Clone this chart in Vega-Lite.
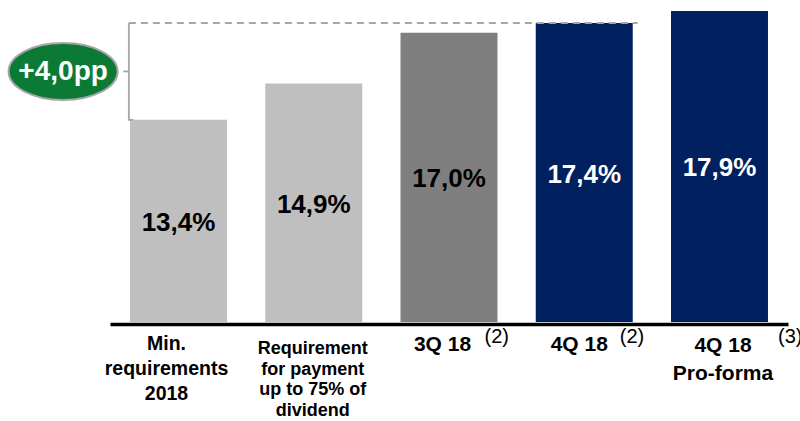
{
  "$schema": "https://vega.github.io/schema/vega-lite/v6.json",
  "width": 678,
  "height": 322,
  "autosize": {"type": "none"},
  "padding": {"left": 110, "top": 0, "right": 12, "bottom": 99},
  "background": "white",
  "config": {"view": {"stroke": null}, "font": "Liberation Sans"},
  "datasets": {
    "bars": [
      {"cat": "min", "lines": ["Min.", "requirements", "2018"], "value": 13.4, "label": "13,4%", "kind": "light", "note": ""},
      {"cat": "req", "lines": ["Requirement", "for payment", "up to 75% of", "dividend"], "value": 14.9, "label": "14,9%", "kind": "light", "note": ""},
      {"cat": "3q", "lines": ["3Q 18"], "value": 17.0, "label": "17,0%", "kind": "dark", "note": "(2)"},
      {"cat": "4q", "lines": ["4Q 18"], "value": 17.4, "label": "17,4%", "kind": "navy", "note": "(2)"},
      {"cat": "pf", "lines": ["4Q 18", "Pro-forma"], "value": 17.9, "label": "17,9%", "kind": "navy", "note": "(3)"}
    ],
    "gap": [
      {"from": "min", "to": "4q", "low": 13.4, "high": 17.4, "mid": 15.4, "text": "+4,0pp"}
    ]
  },
  "resolve": {"scale": {"y": "independent"}},
  "layer": [
    {
      "layer": [
        {
          "data": {"name": "bars"},
          "mark": {"type": "bar"},
          "encoding": {
            "x": {
              "field": "cat",
              "type": "nominal",
              "sort": null,
              "scale": {
                "domain": ["min", "req", "3q", "4q", "pf"],
                "paddingInner": 0.283,
                "paddingOuter": 0.148
              },
              "axis": {
                "title": null,
                "ticks": false,
                "labels": false,
                "domainColor": "black",
                "domainWidth": 3.5,
                "offset": 2
              }
            },
            "y": {
              "field": "value",
              "type": "quantitative",
              "scale": {"domain": [5.05, 18.35], "zero": false, "nice": false},
              "axis": null
            },
            "y2": {"datum": 5.05},
            "color": {
              "field": "kind",
              "type": "nominal",
              "scale": {"domain": ["light", "dark", "navy"], "range": ["#BFBFBF", "#7F7F7F", "#00205F"]},
              "legend": null
            }
          }
        },
        {
          "data": {"name": "gap"},
          "mark": {"type": "rule", "stroke": "#A6A6A6", "strokeWidth": 2, "strokeDash": [7, 5]},
          "encoding": {
            "x": {"field": "from", "type": "nominal", "bandPosition": -0.012},
            "x2": {"field": "to", "bandPosition": 1.05},
            "y": {"field": "high", "type": "quantitative"}
          }
        },
        {
          "data": {"name": "gap"},
          "mark": {"type": "rule", "stroke": "#A6A6A6", "strokeWidth": 1.8},
          "encoding": {
            "x": {"field": "from", "type": "nominal", "bandPosition": -0.012},
            "y": {"field": "low", "type": "quantitative"},
            "y2": {"field": "high"}
          }
        },
        {
          "data": {"name": "gap"},
          "mark": {"type": "rule", "stroke": "#A6A6A6", "strokeWidth": 1.8},
          "encoding": {
            "x": {"field": "from", "type": "nominal", "bandPosition": -0.02},
            "x2": {"field": "from", "bandPosition": 0.035},
            "y": {"field": "low", "type": "quantitative"}
          }
        },
        {
          "data": {"name": "gap"},
          "mark": {"type": "rule", "stroke": "#A6A6A6", "strokeWidth": 1.8},
          "encoding": {
            "x": {"field": "from", "type": "nominal", "bandPosition": -0.07},
            "x2": {"field": "from", "bandPosition": -0.012},
            "y": {"field": "mid", "type": "quantitative"}
          }
        },
        {
          "data": {"name": "gap"},
          "mark": {
            "type": "point",
            "shape": "M-1,0A1,0.523,0,1,1,1,0A1,0.523,0,1,1,-1,0Z",
            "size": 11881,
            "filled": true,
            "fill": "#0B7A35",
            "stroke": "#A6A6A6",
            "strokeWidth": 2,
            "opacity": 1,
            "fillOpacity": 1,
            "strokeOpacity": 1
          },
          "encoding": {
            "x": {"field": "from", "type": "nominal", "bandPosition": -0.69},
            "y": {"field": "mid", "type": "quantitative"}
          }
        },
        {
          "data": {"name": "gap"},
          "mark": {"type": "text", "font": "Liberation Sans", "fontWeight": "bold", "fontSize": 28, "color": "white", "align": "center", "baseline": "middle", "dy": 1},
          "encoding": {
            "x": {"field": "from", "type": "nominal", "bandPosition": -0.69},
            "y": {"field": "mid", "type": "quantitative"},
            "text": {"field": "text"}
          }
        },
        {
          "data": {"name": "bars"},
          "transform": [{"filter": "datum.cat == 'min'"}],
          "mark": {"type": "text", "font": "Liberation Sans", "fontWeight": "bold", "fontSize": 19.5, "lineHeight": 25, "color": "black", "align": "center", "baseline": "top", "dx": -12, "dy": 1},
          "encoding": {
            "x": {"field": "cat", "type": "nominal"},
            "y": {"datum": 4.534},
            "text": {"field": "lines"}
          }
        },
        {
          "data": {"name": "bars"},
          "transform": [{"filter": "datum.cat == 'req'"}],
          "mark": {"type": "text", "font": "Liberation Sans", "fontWeight": "bold", "fontSize": 18, "lineHeight": 20.5, "color": "black", "align": "center", "baseline": "top", "dx": -1, "dy": 6},
          "encoding": {
            "x": {"field": "cat", "type": "nominal"},
            "y": {"datum": 4.534},
            "text": {"field": "lines"}
          }
        },
        {
          "data": {"name": "bars"},
          "transform": [{"filter": "datum.cat == '3q'"}],
          "mark": {"type": "text", "font": "Liberation Sans", "fontWeight": "bold", "fontSize": 21, "lineHeight": 28, "color": "black", "align": "center", "baseline": "top", "dx": -6.5, "dy": 0},
          "encoding": {
            "x": {"field": "cat", "type": "nominal"},
            "y": {"datum": 4.534},
            "text": {"field": "lines"}
          }
        },
        {
          "data": {"name": "bars"},
          "transform": [{"filter": "datum.cat == '4q'"}],
          "mark": {"type": "text", "font": "Liberation Sans", "fontWeight": "bold", "fontSize": 21, "lineHeight": 28, "color": "black", "align": "center", "baseline": "top", "dx": -5, "dy": 0},
          "encoding": {
            "x": {"field": "cat", "type": "nominal"},
            "y": {"datum": 4.534},
            "text": {"field": "lines"}
          }
        },
        {
          "data": {"name": "bars"},
          "transform": [{"filter": "datum.cat == 'pf'"}],
          "mark": {"type": "text", "font": "Liberation Sans", "fontWeight": "bold", "fontSize": 21, "lineHeight": 28, "color": "black", "align": "center", "baseline": "top", "dx": 3.5, "dy": 1},
          "encoding": {
            "x": {"field": "cat", "type": "nominal"},
            "y": {"datum": 4.534},
            "text": {"field": "lines"}
          }
        },
        {
          "data": {"name": "bars"},
          "transform": [{"filter": "datum.note == '(2)'"}],
          "mark": {"type": "text", "font": "Liberation Sans", "fontSize": 20, "color": "black", "align": "left", "baseline": "top", "dx": 35.5},
          "encoding": {
            "x": {"field": "cat", "type": "nominal"},
            "y": {"datum": 4.84},
            "text": {"field": "note"}
          }
        },
        {
          "data": {"name": "bars"},
          "transform": [{"filter": "datum.note == '(3)'"}],
          "mark": {"type": "text", "font": "Liberation Sans", "fontSize": 20, "color": "black", "align": "left", "baseline": "top", "dx": 58.5},
          "encoding": {
            "x": {"field": "cat", "type": "nominal"},
            "y": {"datum": 4.84},
            "text": {"field": "note"}
          }
        }
      ]
    },
    {
      "data": {"name": "bars"},
      "mark": {"type": "text", "font": "Liberation Sans", "fontWeight": "bold", "fontSize": 26, "align": "center", "baseline": "middle", "dy": 2},
      "encoding": {
        "x": {"field": "cat", "type": "nominal"},
        "y": {
          "field": "value",
          "type": "quantitative",
          "scale": {"domain": [5.05, 18.35], "zero": false, "nice": false, "range": [322, 161]},
          "axis": null
        },
        "text": {"field": "label"},
        "color": {
          "condition": {"test": "datum.kind == 'navy'", "value": "white"},
          "value": "black"
        }
      }
    }
  ]
}
